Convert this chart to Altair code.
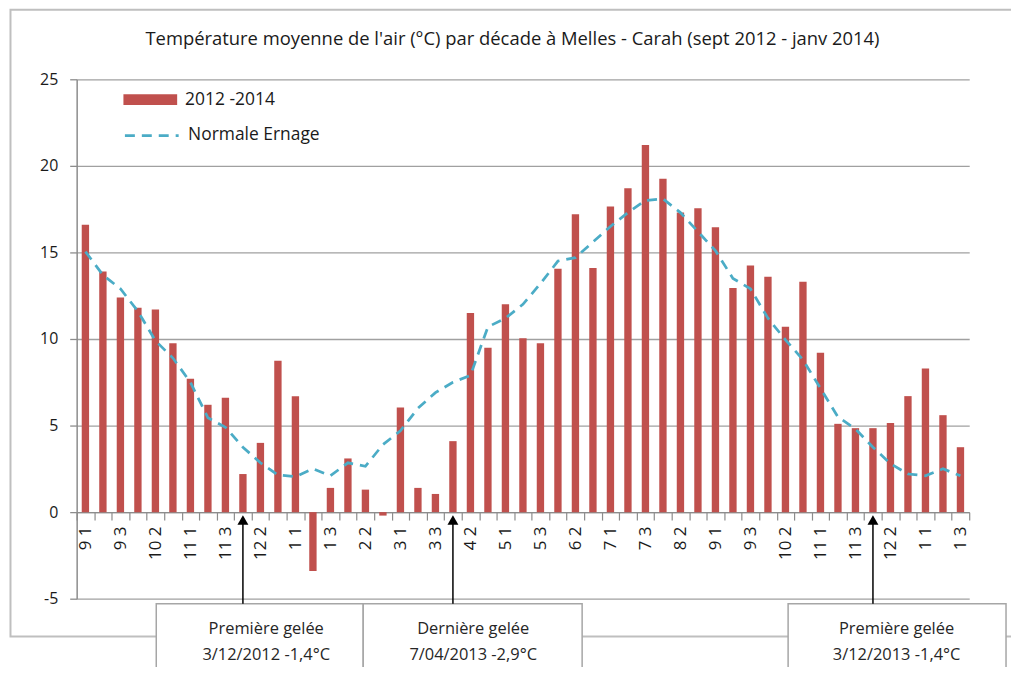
import json
import altair as alt
import pandas as pd

# ---------------- data ----------------
decades = ["9 1", "9 2", "9 3", "10 1", "10 2", "10 3", "11 1", "11 2", "11 3", "12 1", "12 2", "12 3",
           "1 1", "1 2", "1 3", "2 1", "2 2", "2 3", "3 1", "3 2", "3 3", "4 1", "4 2", "4 3",
           "5 1", "5 2", "5 3", "6 1", "6 2", "6 3", "7 1", "7 2", "7 3", "8 1", "8 2", "8 3",
           "9 1", "9 2", "9 3", "10 1", "10 2", "10 3", "11 1", "11 2", "11 3", "12 1", "12 2", "12 3",
           "1 1", "1 2", "1 3"]

temp_2012_2014 = [16.6, 13.9, 12.4, 11.8, 11.7, 9.75, 7.7, 6.2, 6.6, 2.2, 4.0, 8.75,
                  6.7, -3.4, 1.4, 3.1, 1.3, -0.2, 6.05, 1.4, 1.05, 4.1, 11.5, 9.5,
                  12.0, 10.05, 9.75, 14.05, 17.2, 14.1, 17.65, 18.7, 21.2, 19.25, 17.3, 17.55,
                  16.45, 12.95, 14.25, 13.6, 10.7, 13.3, 9.2, 5.1, 4.85, 4.85, 5.15, 6.7,
                  8.3, 5.6, 3.75]

normale_ernage = [15.05, 13.7, 12.9, 11.6, 9.9, 8.9, 7.5, 5.45, 4.9, 3.75, 2.85, 2.15,
                  2.05, 2.5, 2.1, 2.85, 2.65, 3.9, 4.7, 6.0, 6.9, 7.5, 7.9, 10.7,
                  11.2, 12.0, 13.2, 14.5, 14.7, 15.6, 16.5, 17.3, 18.0, 18.1, 17.3, 16.2,
                  15.1, 13.5, 12.9, 11.2, 9.95, 8.8, 7.15, 5.5, 4.8, 3.75, 2.8, 2.2,
                  2.1, 2.5, 2.1]

series_obs = "2012 -2014"
series_norm = "Normale Ernage"

frost_idx = [9, 21, 45]
frost_titles = ["Première gelée", "Dernière gelée", "Première gelée"]
frost_details = ["3/12/2012 -1,4°C", "7/04/2013 -2,9°C", "3/12/2013 -1,4°C"]

title_text = "Température moyenne de l'air (°C) par décade à Melles - Carah (sept 2012 - janv 2014)"

# ---------------- layout ----------------
FONT = "Open Sans"
TXT = "#1A1A1A"
W, H = 897, 522
Y_MIN, Y_MAX = -5, 25
zero_offset = -H * (0 - Y_MIN) / (Y_MAX - Y_MIN)

df = pd.DataFrame({
    "idx": list(range(len(decades))),
    "decade": decades,
    "temp": temp_2012_2014,
    "normale": normale_ernage,
    "s_obs": series_obs,
    "s_norm": series_norm,
})
frost_df = pd.DataFrame({
    "idx": frost_idx,
    "title": frost_titles,
    "detail": frost_details,
})

label_expr = "datum.value % 2 == 0 ? " + json.dumps(decades) + "[datum.value] : ''"

x_enc = alt.X(
    "idx:O",
    scale=alt.Scale(paddingInner=0, paddingOuter=0),
    axis=alt.Axis(
        title=None, labelExpr=label_expr, labelAngle=270, tickBand="extent",
        offset=zero_offset, domainColor="#8C8C8C", domainWidth=1.5,
        tickColor="#8C8C8C", tickWidth=1.2, tickSize=8, labelPadding=6,
        labelFontSize=17, labelFont=FONT, labelColor=TXT,
        labelOverlap=False, labelBound=False, grid=False,
    ),
)
y_scale = alt.Scale(domain=[Y_MIN, Y_MAX], nice=False)
y_axis = alt.Axis(
    title=None, values=[-5, 0, 5, 10, 15, 20, 25], grid=True,
    labelExpr="'' + datum.value",
    gridColor="#A0A0A0", gridWidth=1.3, domainColor="#8C8C8C", domainWidth=1.5,
    tickColor="#8C8C8C", tickWidth=1.3, tickSize=7, labelPadding=12,
    labelFontSize=16, labelFont=FONT, labelColor=TXT,
)

base = alt.Chart(df)

bars = base.mark_bar(width=alt.RelativeBandSize(0.42)).encode(
    x=x_enc,
    y=alt.Y("temp:Q", scale=y_scale, axis=y_axis),
    color=alt.Color(
        "s_obs:N",
        scale=alt.Scale(domain=[series_obs], range=["#C0504D"]),
        legend=alt.Legend(
            title=None, orient="none", legendX=47, legendY=-6.5, padding=0,
            symbolType="M-1,-0.2H1V0.2H-1Z", symbolSize=2916, symbolStrokeWidth=0,
            symbolOpacity=1, labelFontSize=17.5, labelFont=FONT, labelColor=TXT,
            labelOffset=8,
        ),
    ),
)

line = base.mark_line(color="#4BACC6", strokeWidth=2.75).encode(
    x=alt.X("idx:O"),
    y=alt.Y("normale:Q"),
    strokeDash=alt.StrokeDash(
        "s_norm:N",
        scale=alt.Scale(domain=[series_norm], range=[[10, 7]]),
        legend=alt.Legend(
            title=None, orient="none", legendX=47, legendY=28, padding=0,
            symbolType="stroke", symbolSize=2916, symbolStrokeColor="#4BACC6",
            symbolStrokeWidth=2.75, labelFontSize=17.5, labelFont=FONT,
            labelColor=TXT, labelOffset=8,
        ),
    ),
)

# outer frame (decoration)
frame = alt.Chart(pd.DataFrame({"f": [0]})).mark_rect(
    fillOpacity=0, stroke="#BFBFBF", strokeWidth=2
).encode(x=alt.value(-66.5), x2=alt.value(960), y=alt.value(-70), y2=alt.value(560))

# title
title = alt.Chart(pd.DataFrame({"t": [title_text]})).mark_text(
    font=FONT, fontSize=18.5, color=TXT, align="center", baseline="middle"
).encode(text="t:N", x=alt.value(438), y=alt.value(-40))

# annotation boxes
box_px = [(80, 288), (288, 508), (715, 934)]
text_px = [190.5, 398.5, 824]
boxes = []
for k, ((bx0, bx1), tx) in enumerate(zip(box_px, text_px)):
    row = frost_df.iloc[[k]]
    boxes.append(
        alt.Chart(row).mark_rect(fill="white", stroke="#A6A6A6", strokeWidth=1.5).encode(
            x=alt.value(bx0), x2=alt.value(bx1), y=alt.value(527), y2=alt.value(640)
        )
    )
    for field, ty in (("title", 552), ("detail", 579)):
        boxes.append(
            alt.Chart(row).mark_text(
                font=FONT, fontSize=16.5, color="#262626", align="center", baseline="middle",
            ).encode(text=f"{field}:N", x=alt.value(tx), y=alt.value(ty))
        )

arrows = alt.Chart(frost_df).mark_rule(color="black", strokeWidth=1.5).encode(
    x=alt.X("idx:O"), y=alt.value(446), y2=alt.value(527)
)
heads = alt.Chart(frost_df).mark_point(
    shape="triangle-up", filled=True, color="black", size=120, opacity=1
).encode(x=alt.X("idx:O"), y=alt.value(443))

chart = alt.layer(frame, bars, line, *boxes, arrows, heads, title).resolve_legend(
    color="independent", strokeDash="independent"
).properties(
    width=W, height=H,
    autosize=alt.AutoSizeParams(type="none"),
    padding={"left": 69, "top": 70, "right": 42, "bottom": 67},
).configure_view(strokeWidth=0)

chart.save("out.html", embed_options={"renderer": "svg", "actions": False})
